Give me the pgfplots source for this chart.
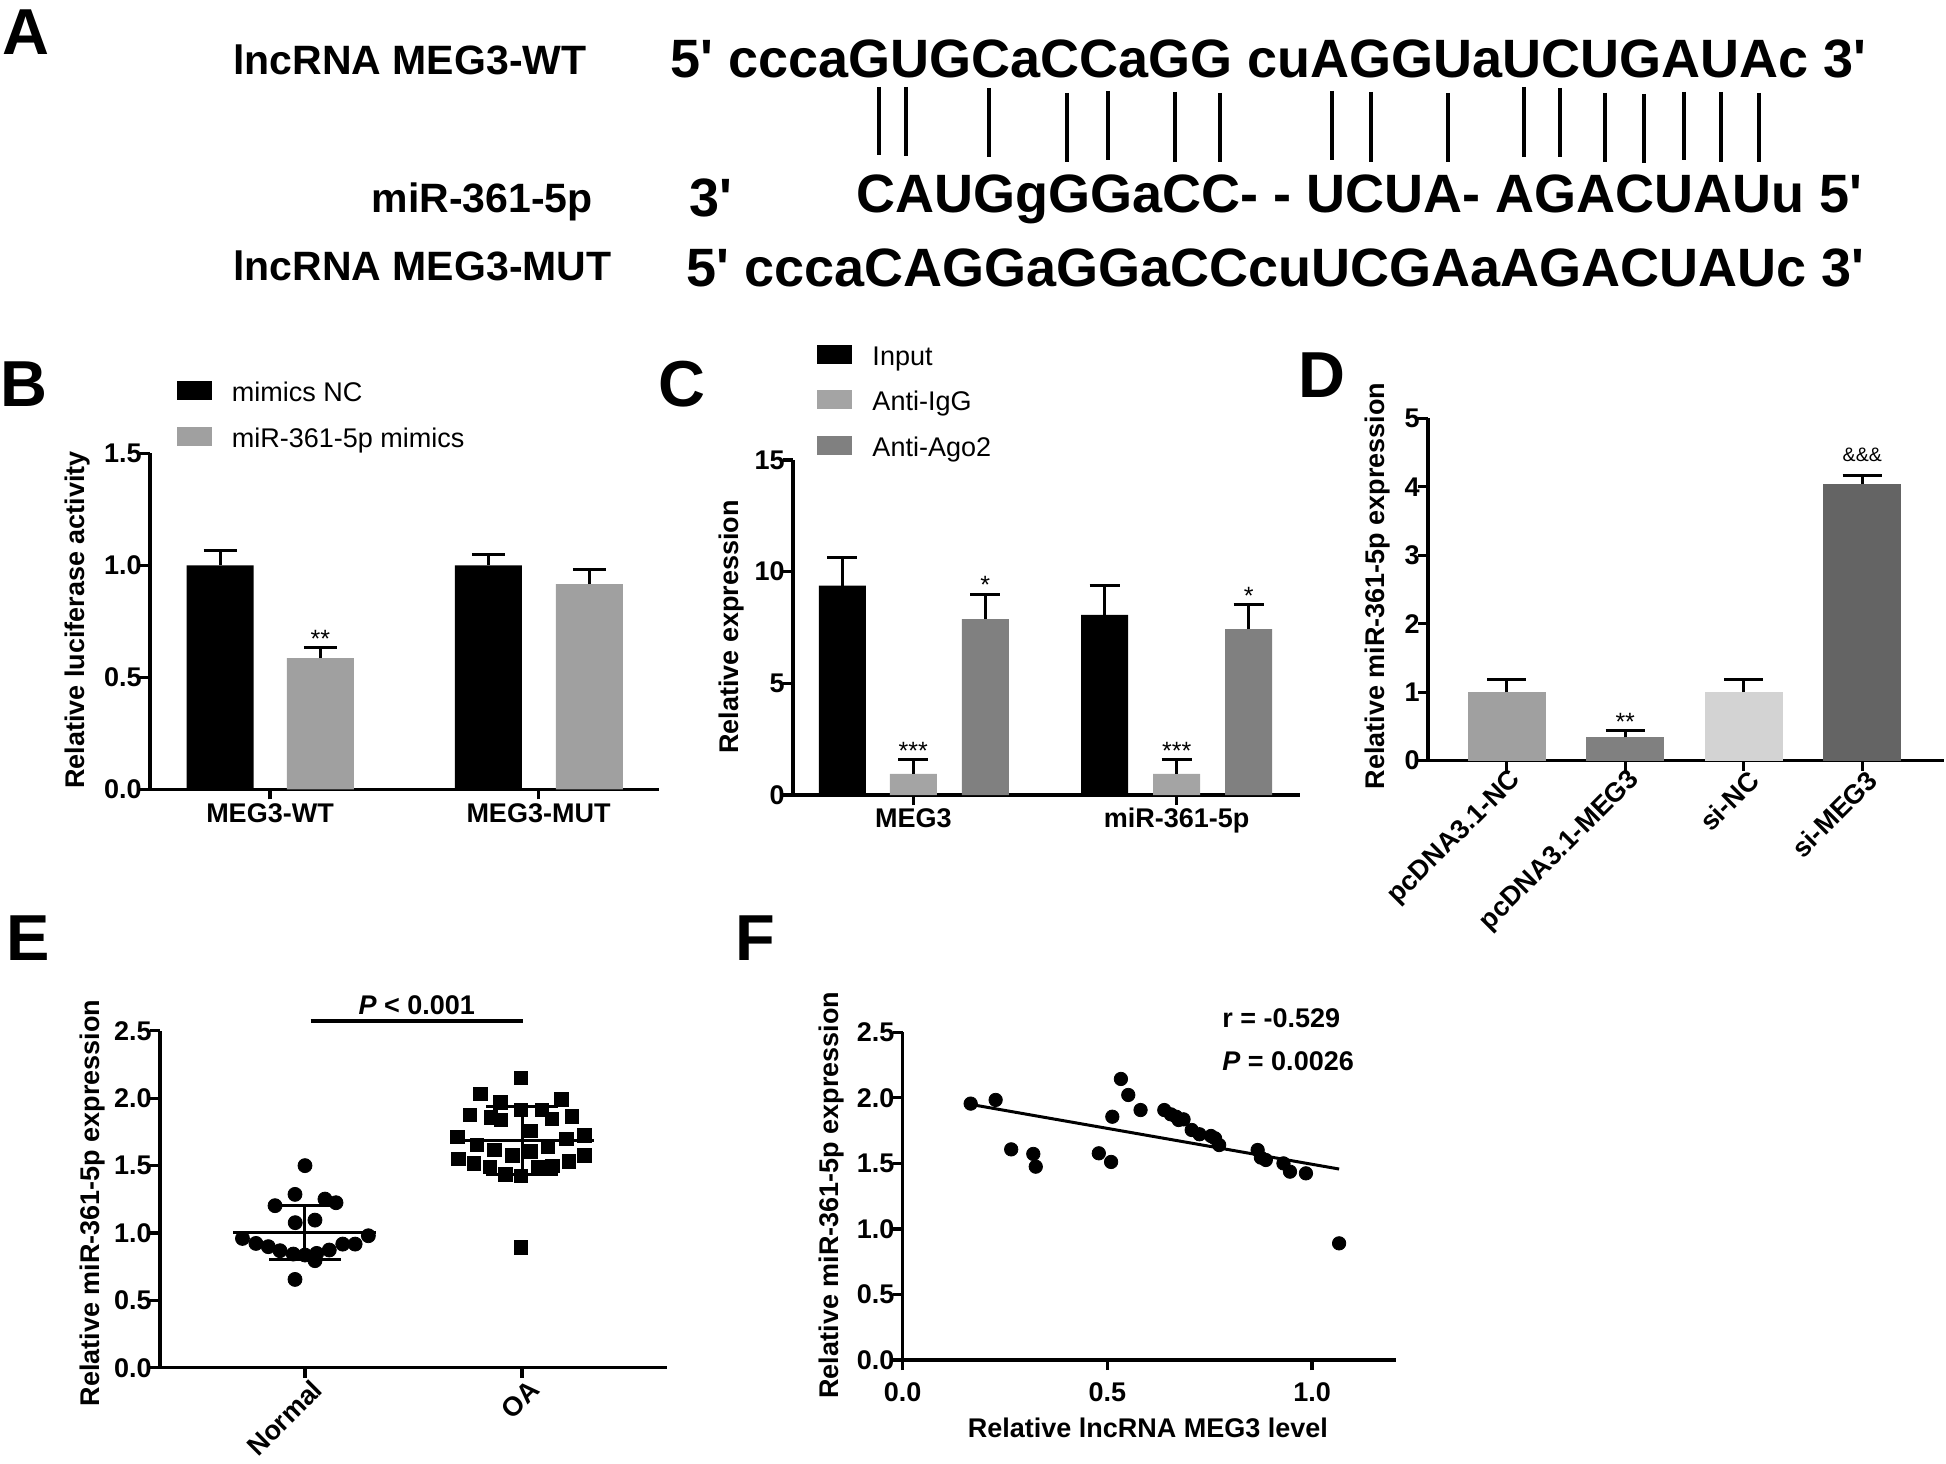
\documentclass[border=0pt]{standalone}
\usepackage{fontspec}
\setmainfont{Liberation Sans}
\usepackage{pgfplots}
\pgfplotsset{compat=1.18}

\definecolor{gB}{HTML}{A0A0A0}
\definecolor{gL}{HTML}{A4A4A4}
\definecolor{gD}{HTML}{808080}
\definecolor{dA}{HTML}{A0A0A0}
\definecolor{dB}{HTML}{808080}
\definecolor{dC}{HTML}{D3D3D3}
\definecolor{dD}{HTML}{646464}

\newcommand{\fa}{\fontsize{13.5}{16}\selectfont\bfseries}
\newcommand{\fl}{\fontsize{13.5}{16}\selectfont}
\newcommand{\fs}{\fontsize{12.5}{15}\selectfont}
\newcommand{\fL}{\fontsize{32.5}{39}\selectfont\bfseries}
\newcommand{\fq}{\fontsize{27}{32}\selectfont\bfseries}
\newcommand{\fn}{\fontsize{20.5}{24}\selectfont\bfseries}
\newcommand{\q}{\textquotesingle}

\pgfplotsset{
  panel/.style={
    scale only axis, clip=false, anchor=south west,
    axis x line*=bottom, axis y line*=left,
    axis line style={-, line width=1.6pt, black},
    tick style={line width=1.6pt, black},
    major tick length=5pt, tick align=outside,
    minor tick num=0,
    tick label style={font=\fa},
    /pgf/number format/assume math mode=true,
    yticklabel style={anchor=east, inner sep=0pt, xshift=1pt},
    xticklabel style={anchor=north, inner sep=0pt},
  },
  eb/.style={error bars/.cd, y dir=plus, y explicit,
    error bar style={line width=1.5pt, draw=black, solid},
    error mark options={rotate=90, draw=black, line width=1.5pt, mark size=#1}},
  sqleg/.style={
    legend image code/.code={\fill[##1] (0pt,-2.75pt) rectangle (17.5pt,6.75pt); \path (27.5pt,0pt);},
    legend cell align=left,
    legend style={draw=none, fill=none, anchor=north west, inner sep=0pt, outer sep=0pt,
      row sep=9.5pt, font=\fl,
      nodes={inner sep=0pt, text height=10pt, text depth=3pt}},
  },
}

\begin{document}
\begin{tikzpicture}
\path[use as bounding box] (0pt,0pt) rectangle (973pt,731.5pt);

% panel letters
\node[anchor=base west, inner sep=0pt, font=\fL] at (1pt,704pt) {A};
\node[anchor=base west, inner sep=0pt, font=\fL] at (0pt,528pt) {B};
\node[anchor=base west, inner sep=0pt, font=\fL] at (329pt,528pt) {C};
\node[anchor=base west, inner sep=0pt, font=\fL] at (649pt,532.5pt) {D};
\node[anchor=base west, inner sep=0pt, font=\fL] at (3pt,251.5pt) {E};
\node[anchor=base west, inner sep=0pt, font=\fL] at (367.5pt,251.5pt) {F};

% A: sequences
\node[anchor=base west, inner sep=0pt, font=\fn] at (116.5pt,694pt) {lncRNA MEG3-WT};
\node[anchor=base west, inner sep=0pt, font=\fq] at (335pt,692.5pt) {5\q{} cccaGUGCaCCaGG cuAGGUaUCUGAUAc 3\q};
\node[anchor=base east, inner sep=0pt, font=\fn] at (296.5pt,625pt) {miR-361-5p};
\node[anchor=base west, inner sep=0pt, font=\fq] at (344.5pt,623pt) {3\q};
\node[anchor=base west, inner sep=0pt, font=\fq] at (428pt,625pt) {CAUGgGGaCC- - UCUA- AGACUAUu 5\q};
\node[anchor=base west, inner sep=0pt, font=\fn] at (116.5pt,591pt) {lncRNA MEG3-MUT};
\node[anchor=base west, inner sep=0pt, font=\fq] at (343pt,588pt) {5\q{} cccaCAGGaGGaCCcuUCGAaAGACUAUc 3\q};
\foreach \x/\t/\b in {439.5/688/654, 453/688/653.5, 494.5/687.5/653, 533.5/685/650.5,
  554/686/651.5, 587.5/685.5/650.5, 610/685/650.5, 666/686/651.5, 685.5/685.5/650.5,
  724/685/650.5, 762/688/653, 780/687.5/653, 802.5/685/650.5, 822/684.5/650,
  842/685.5/651.5, 860.5/685.5/650.5, 879.5/685/650.5}
  \draw[line width=2pt] (\x pt,\t pt) -- (\x pt,\b pt);

% B
\begin{axis}[panel, ybar, bar shift=0pt, bar width=33.5pt, sqleg,
  at={(75pt,336.85pt)}, width=254.5pt, height=168pt,
  xmin=0.5531, xmax=2.4488, ymin=0, ymax=1.5,
  xtick={1,2}, xticklabels={MEG3-WT,MEG3-MUT},
  xticklabel style={yshift=-2pt},
  ytick={0,0.5,1,1.5},
  yticklabel style={/pgf/number format/.cd, fixed, fixed zerofill, precision=1},
  ylabel={Relative luciferase activity},
  every axis y label/.style={at={(axis description cs:-0.1415,0.504)}, rotate=90, anchor=center, font=\fa},
  legend style={at={(axis description cs:0.053,1.2137)}},
]
\addplot[fill=black, draw=none, eb=8.25pt] coordinates {(0.8138,1.0) +- (0,0.065) (1.8131,1.0) +- (0,0.047)};
\addlegendentry{mimics NC}
\addplot[fill=gB, draw=none, eb=8.25pt] coordinates {(1.1875,0.586) +- (0,0.047) (2.1899,0.916) +- (0,0.067)};
\addlegendentry{miR-361-5p mimics}
\node[font=\fs, anchor=base, inner sep=0pt] at (axis cs:1.1875,0.633) {**};
\end{axis}

% C
\begin{axis}[panel, ybar, bar shift=0pt, bar width=23.5pt, sqleg,
  at={(396.5pt,334pt)}, width=253.5pt, height=167.5pt,
  xmin=0.5433, xmax=2.468, ymin=0, ymax=15,
  xtick={1,2}, xticklabels={MEG3,miR-361-5p},
  xticklabel style={yshift=-1.5pt},
  ytick={0,5,10,15},
  ylabel={Relative expression},
  every axis y label/.style={at={(axis description cs:-0.1203,0.501)}, rotate=90, anchor=center, font=\fa},
  legend style={at={(axis description cs:0.0483,1.3445)}},
]
\addplot[fill=black, draw=none, eb=7.5pt] coordinates {(0.7305,9.37) +- (0,1.27) (1.726,8.06) +- (0,1.31)};
\addlegendentry{Input}
\addplot[fill=gL, draw=none, eb=7.5pt] coordinates {(1.0,0.95) +- (0,0.62) (2.0,0.95) +- (0,0.62)};
\addlegendentry{Anti-IgG}
\addplot[fill=gD, draw=none, eb=7.5pt] coordinates {(1.2735,7.88) +- (0,1.12) (2.273,7.43) +- (0,1.12)};
\addlegendentry{Anti-Ago2}
\node[font=\fs, anchor=base, inner sep=0pt] at (axis cs:1.0,1.57) {***};
\node[font=\fs, anchor=base, inner sep=0pt] at (axis cs:2.0,1.57) {***};
\node[font=\fs, anchor=base, inner sep=0pt] at (axis cs:1.2735,9.0) {*};
\node[font=\fs, anchor=base, inner sep=0pt] at (axis cs:2.273,8.55) {*};
\end{axis}

% D
\begin{axis}[panel, ybar, bar shift=0pt, bar width=39.15pt,
  at={(714pt,351.15pt)}, width=258pt, height=171.2pt,
  xmin=0.336, xmax=4.69, ymin=0, ymax=5,
  xtick={1,2,3,4}, xticklabels={pcDNA3.1-NC,pcDNA3.1-MEG3,si-NC,si-MEG3},
  xticklabel style={rotate=45, anchor=east, xshift=2pt, yshift=-5.5pt},
  ytick={0,1,2,3,4,5},
  ylabel={Relative miR-361-5p expression},
  every axis y label/.style={at={(axis description cs:-0.0988,0.51)}, rotate=90, anchor=center, font=\fa},
]
\addplot[fill=dA, draw=none, eb=9.8pt] coordinates {(1,1.0) +- (0,0.19)};
\addplot[fill=dB, draw=none, eb=9.8pt] coordinates {(2,0.34) +- (0,0.10)};
\addplot[fill=dC, draw=none, eb=9.8pt] coordinates {(3,1.0) +- (0,0.19)};
\addplot[fill=dD, draw=none, eb=9.8pt] coordinates {(4,4.04) +- (0,0.12)};
\node[font=\fs, anchor=base, inner sep=0pt] at (axis cs:2,0.44) {**};
\node[font=\fontsize{9.75}{12}\selectfont, anchor=base, inner sep=0pt] at (axis cs:4,4.365) {\&\&\&};
\end{axis}

% E
\begin{axis}[panel,
  at={(80pt,47.65pt)}, width=253.5pt, height=168.5pt,
  xmin=0.332, xmax=2.668, ymin=0, ymax=2.5,
  xtick={1,2}, xticklabels={Normal,OA},
  xticklabel style={rotate=45, anchor=east, xshift=2pt, yshift=-7pt},
  ytick={0,0.5,1,1.5,2,2.5},
  yticklabel style={/pgf/number format/.cd, fixed, fixed zerofill, precision=1},
  ylabel={Relative miR-361-5p expression},
  every axis y label/.style={at={(axis description cs:-0.134,0.489)}, rotate=90, anchor=center, font=\fa},
]
\addplot[only marks, mark=*, mark size=3.5pt, black] coordinates {
(1.0,1.499) (0.954,1.286) (0.862,1.202) (1.092,1.251) (1.143,1.224) (0.955,1.076)
(1.046,1.095) (0.712,0.959) (0.774,0.922) (0.831,0.898) (0.885,0.868) (0.946,0.843)
(1.0,0.836) (1.054,0.848) (1.046,0.794) (1.112,0.873) (1.174,0.917) (1.231,0.917)
(1.292,0.979) (0.954,0.655)};
\addplot[only marks, mark=square*, mark size=3.35pt, black] coordinates {
(1.996,2.148) (1.809,2.030) (1.901,1.968) (2.181,1.991) (1.996,1.913) (2.092,1.913)
(1.760,1.876) (1.856,1.858) (1.903,1.840) (2.138,1.845) (2.230,1.863) (2.041,1.755)
(1.702,1.711) (2.287,1.724) (1.791,1.652) (2.205,1.698) (1.873,1.614) (2.041,1.606)
(2.119,1.639) (1.955,1.575) (1.706,1.549) (1.778,1.516) (1.852,1.490) (1.924,1.434)
(1.996,1.421) (2.072,1.490) (2.140,1.498) (2.216,1.531) (2.287,1.575) (1.996,0.894)};
\addplot[line width=1.5pt] coordinates {(0.669,1.0) (1.328,1.0)};
\addplot[line width=1.5pt] coordinates {(1,0.8) (1,1.2)};
\addplot[line width=1.5pt] coordinates {(0.835,1.2) (1.165,1.2)};
\addplot[line width=1.5pt] coordinates {(0.835,0.8) (1.165,0.8)};
\addplot[line width=1.5pt] coordinates {(1.669,1.686) (2.33,1.686)};
\addplot[line width=1.5pt] coordinates {(2,1.434) (2,1.935)};
\addplot[line width=1.5pt] coordinates {(1.835,1.935) (2.165,1.935)};
\addplot[line width=1.5pt] coordinates {(1.835,1.434) (2.165,1.434)};
\addplot[line width=2pt] coordinates {(1.026,2.574) (2.003,2.574)};
\node[font=\fa, anchor=center, inner sep=0pt] at (axis cs:1.515,2.69) {\textit{P} < 0.001};
\end{axis}

% F
\begin{axis}[panel,
  at={(451.35pt,51.5pt)}, width=246.65pt, height=163.85pt,
  xmin=0, xmax=1.205, ymin=0, ymax=2.5,
  xtick={0,0.5,1}, ytick={0,0.5,1,1.5,2,2.5},
  xticklabel style={yshift=-6pt},
  /pgf/number format/fixed, /pgf/number format/fixed zerofill, /pgf/number format/precision=1,
  xlabel={Relative lncRNA MEG3 level},
  ylabel={Relative miR-361-5p expression},
  every axis x label/.style={at={(axis description cs:0.497,-0.2075)}, anchor=center, font=\fa},
  every axis y label/.style={at={(axis description cs:-0.145,0.503)}, rotate=90, anchor=center, font=\fa},
]
\addplot[only marks, mark=*, mark size=3.35pt, black] coordinates {
(0.166,1.956) (0.227,1.984) (0.265,1.607) (0.319,1.572) (0.325,1.475) (0.479,1.577)
(0.509,1.511) (0.512,1.856) (0.533,2.144) (0.551,2.022) (0.581,1.907) (0.639,1.907)
(0.655,1.874) (0.668,1.856) (0.674,1.831) (0.686,1.836) (0.706,1.755) (0.725,1.722)
(0.753,1.709) (0.763,1.691) (0.773,1.640) (0.867,1.602) (0.875,1.544) (0.887,1.526)
(0.930,1.500) (0.946,1.437) (0.985,1.424) (1.066,0.890)};
\addplot[line width=1.5pt] coordinates {(0.175,1.945) (1.066,1.457)};
\node[font=\fa, anchor=west, inner sep=0pt] at (axis cs:0.78,2.609) {r = -0.529};
\node[font=\fa, anchor=west, inner sep=0pt] at (axis cs:0.78,2.281) {\textit{P} = 0.0026};
\end{axis}
\end{tikzpicture}
\end{document}
